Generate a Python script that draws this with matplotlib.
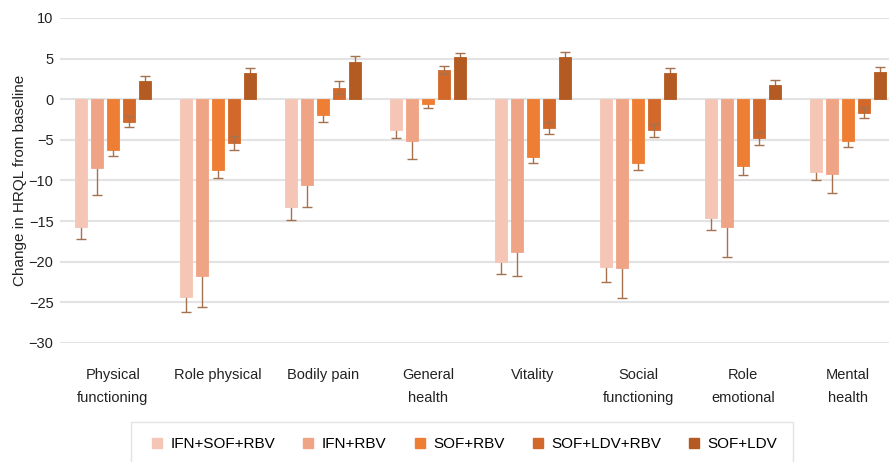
import numpy as np
import matplotlib
matplotlib.use("Agg")
from matplotlib import pyplot as plt
from matplotlib.lines import Line2D

plt.rcParams['font.family'] = ['Liberation Sans', 'DejaVu Sans']

# HRQL domains (x categories)
domains = ["Physical\nfunctioning", "Role physical", "Bodily pain", "General\nhealth",
           "Vitality", "Social\nfunctioning", "Role\nemotional", "Mental\nhealth"]

regimens = ["IFN+SOF+RBV", "IFN+RBV", "SOF+RBV", "SOF+LDV+RBV", "SOF+LDV"]

# mean change from baseline, one list per regimen
ifn_sof_rbv = [-15.7, -24.4, -13.3, -3.8, -20.0, -20.7, -14.6, -8.9]
ifn_rbv = [-8.5, -21.8, -10.6, -5.2, -18.8, -20.8, -15.75, -9.2]
sof_rbv = [-6.2, -8.7, -1.95, -0.55, -7.15, -7.85, -8.2, -5.2]
sof_ldv_rbv = [-2.75, -5.35, 1.4, 3.55, -3.55, -3.8, -4.8, -1.65]
sof_ldv = [2.25, 3.25, 4.6, 5.15, 5.15, 3.2, 1.75, 3.33]

# standard errors
ifn_sof_rbv_err = [1.5, 1.8, 1.55, 0.95, 1.5, 1.75, 1.45, 1.1]
ifn_rbv_err = [3.3, 3.8, 2.7, 2.2, 3.0, 3.7, 3.65, 2.3]
sof_rbv_err = [0.8, 1.0, 0.9, 0.5, 0.7, 0.8, 1.15, 0.7]
sof_ldv_rbv_err = [0.7, 0.85, 0.8, 0.5, 0.75, 0.8, 0.8, 0.65]
sof_ldv_err = [0.6, 0.65, 0.7, 0.6, 0.7, 0.65, 0.65, 0.6]

colors = ['#F5C6B5', '#F0A486', '#EE7E33', '#D2692B', '#B35B22']

values = [ifn_sof_rbv, ifn_rbv, sof_rbv, sof_ldv_rbv, sof_ldv]
errors = [ifn_sof_rbv_err, ifn_rbv_err, sof_rbv_err, sof_ldv_rbv_err, sof_ldv_err]

fig = plt.figure(figsize=(8.89, 4.62), dpi=100)
ax = fig.add_axes([0.068, 0.2576, 0.932, 0.7035])

x = np.arange(len(domains))
step = 0.152
width = 0.118

for i in range(len(regimens)):
    pos = x + (i - 2) * step
    ax.bar(pos, values[i], width, color=colors[i], edgecolor=colors[i],
           linewidth=0.6, zorder=3)
    # error bar visible inside the bar only for SOF+LDV+RBV
    ez = 4 if i == 3 else 2
    ax.errorbar(pos, values[i], yerr=errors[i], fmt='none', ecolor='#A5724F',
                elinewidth=1.0, capsize=3.5, capthick=1.0, zorder=ez)

ax.set_ylim(-30, 10)
ax.set_xlim(-0.5, 7.39)
ax.set_yticks(np.arange(-30, 11, 5))
ax.yaxis.grid(True, color='#E3E3E3', linewidth=1.5, zorder=0)
ax.set_axisbelow(True)
for s in ax.spines.values():
    s.set_visible(False)
ax.tick_params(axis='both', length=0, labelsize=10.5, colors='#222222')
ax.tick_params(axis='x', pad=18)
ax.tick_params(axis='y', pad=5)
ax.set_xticks(x)
ax.set_xticklabels(domains, linespacing=1.85, fontsize=10.5)
ax.set_ylabel('Change in HRQL from baseline', fontsize=11, color='#222222', labelpad=1)

handles = [Line2D([], [], linestyle='none', marker='s', markersize=6.5,
                  markerfacecolor=colors[i], markeredgecolor=colors[i], label=regimens[i])
           for i in range(len(regimens))]
leg = fig.legend(handles=handles, loc='upper left', ncol=5,
                 bbox_to_anchor=(131 / 889, 40 / 462),
                 frameon=True, fancybox=False, fontsize=11, handlelength=1.4,
                 handletextpad=0.2, columnspacing=1.45,
                 borderpad=1.0, borderaxespad=0.0)
leg.get_frame().set_edgecolor('#DDDDDD')
leg.get_frame().set_linewidth(1.0)

fig.savefig('out.png', dpi=100)
